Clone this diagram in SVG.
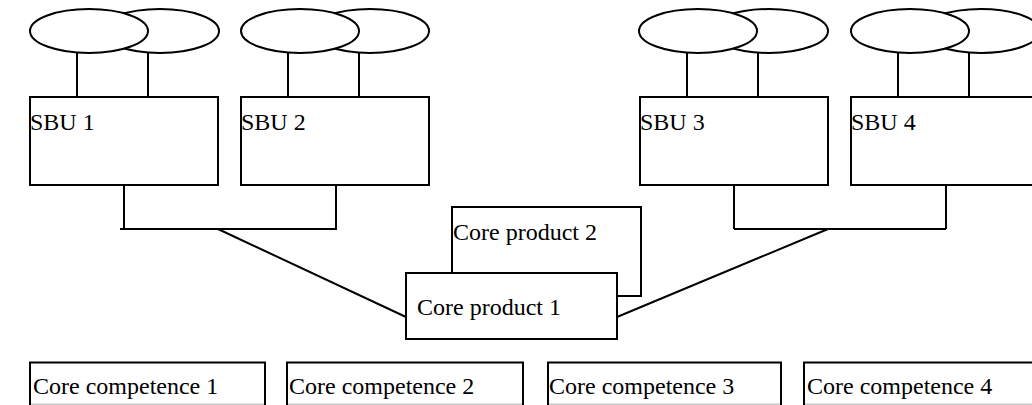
<svg xmlns="http://www.w3.org/2000/svg" width="1032" height="405" viewBox="0 0 1032 405">
<style>
.s{fill:#fff;stroke:#000;stroke-width:2}
.l{fill:none;stroke:#000;stroke-width:2}
.t{font-family:"Liberation Serif","Times New Roman",serif;font-size:24px;fill:#000}
.c{font-family:"Liberation Serif","Times New Roman",serif;font-size:24px;fill:#000}
.g{stroke:#c8c8c8;stroke-width:1.5}
</style>
<rect width="1032" height="405" fill="#fff"/>
<g id="connectors">
<path class="l" d="M77 53V97M148 53V97M288 53V97M359 53V97M687 53V97M758 53V97M898 53V97M969 53V97"/>
<path class="l" d="M124 185V229M336 185V229M120 229H337M734 185V229M946 185V229M734 229H946"/>
<path class="l" d="M218 229L406 317M617 317L828 229"/>
</g>
<g id="sbu1">
<ellipse class="s" cx="160" cy="31" rx="59" ry="22"/>
<ellipse class="s" cx="89" cy="31" rx="59" ry="22"/>
<rect class="s" x="30" y="97" width="188" height="88"/>
<text class="t" x="30" y="130">SBU 1</text>
</g>
<g id="sbu2">
<ellipse class="s" cx="370" cy="31" rx="59" ry="22"/>
<ellipse class="s" cx="300" cy="31" rx="59" ry="22"/>
<rect class="s" x="241" y="97" width="188" height="88"/>
<text class="t" x="241" y="130">SBU 2</text>
</g>
<g id="sbu3">
<ellipse class="s" cx="769" cy="31" rx="59" ry="22"/>
<ellipse class="s" cx="698" cy="31" rx="59" ry="22"/>
<rect class="s" x="640" y="97" width="188" height="88"/>
<text class="t" x="640" y="130">SBU 3</text>
</g>
<g id="sbu4">
<ellipse class="s" cx="981" cy="31" rx="59" ry="22"/>
<ellipse class="s" cx="910" cy="31" rx="59" ry="22"/>
<rect class="s" x="851" y="97" width="188" height="88"/>
<text class="t" x="851" y="130">SBU 4</text>
</g>
<g id="coreproduct2">
<rect class="s" x="452" y="207" width="189" height="89"/>
<text class="t" x="453" y="240">Core product 2</text>
</g>
<g id="coreproduct1">
<rect class="s" x="406" y="273" width="211" height="66"/>
<text class="t" x="417" y="315">Core product 1</text>
</g>
<g id="cc1">
<rect class="s" x="30" y="362.5" width="235" height="50"/>
<line class="g" x1="31" y1="404.3" x2="264" y2="404.3"/>
<text class="c" x="33" y="394">Core competence 1</text>
</g>
<g id="cc2">
<rect class="s" x="287" y="362.5" width="236" height="50"/>
<line class="g" x1="288" y1="404.3" x2="522" y2="404.3"/>
<text class="c" x="289" y="394">Core competence 2</text>
</g>
<g id="cc3">
<rect class="s" x="548" y="362.5" width="233" height="50"/>
<line class="g" x1="549" y1="404.3" x2="780" y2="404.3"/>
<text class="c" x="549" y="394">Core competence 3</text>
</g>
<g id="cc4">
<rect class="s" x="804" y="362.5" width="236" height="50"/>
<line class="g" x1="805" y1="404.3" x2="1032" y2="404.3"/>
<text class="c" x="807" y="394">Core competence 4</text>
</g>
</svg>
